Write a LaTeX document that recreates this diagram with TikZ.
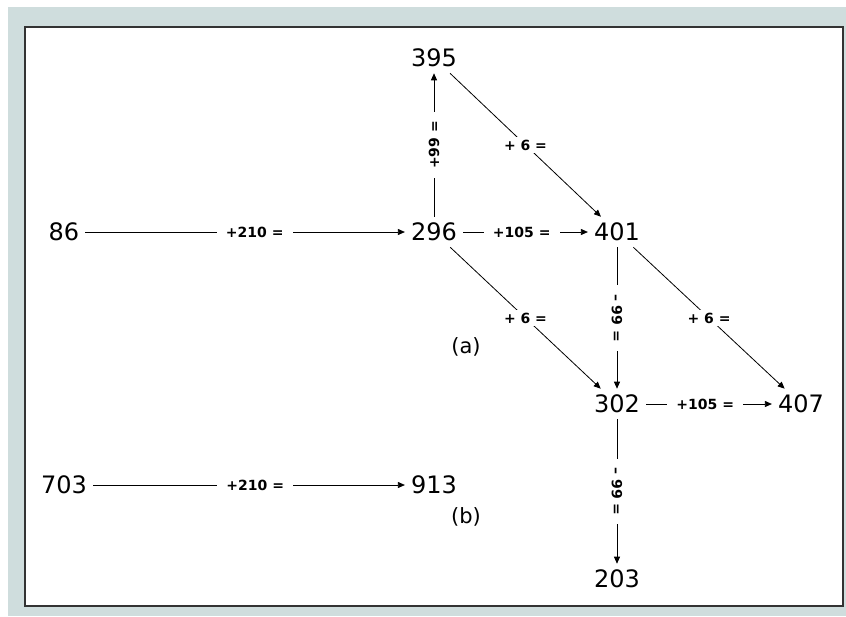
\documentclass[tikz,border=0pt]{standalone}
\usepackage{fontspec}
\setmainfont{DejaVu Sans}
\usetikzlibrary{arrows.meta}
\definecolor{bgWash}{HTML}{CFDDDD}
\definecolor{frameInk}{HTML}{333333}

\begin{document}
\begin{tikzpicture}[
    x=1pt, y=-1pt,
    num/.style={font=\fontsize{24}{28}\selectfont, inner sep=6pt},
    tag/.style={font=\fontsize{21}{24}\selectfont},
    op/.style={font=\bfseries\fontsize{14}{16}\selectfont, fill=white,
               inner xsep=9pt, inner ysep=3pt},
    go/.style={-{Triangle[length=7pt, width=6pt]}, line width=0.8pt},
  ]
  \useasboundingbox (0,0) rectangle (846,616);
  \fill[white] (0,0) rectangle (846,616);
  \fill[bgWash] (8,7) rectangle (846,616);
  \draw[frameInk, line width=2pt, fill=white] (25,27) rectangle (843,606);

  % (a): the step grid
  \node[num] (n86)  at (64,232)  {86};
  \node[num] (n296) at (434,232) {296};
  \node[num] (n395) at (434,58)  {395};
  \node[num] (n401) at (617,232) {401};
  \node[num] (n302) at (617,404) {302};
  \node[num] (n407) at (801,404) {407};
  \node[num] (n203) at (617,579) {203};
  \node[tag] (ta)   at (466,347) {(a)};

  \draw[go] (n86) -- node[op, pos=0.53] {+210 =} (n296);
  \draw[go] (n296) -- node[op, pos=0.47] {+105 =} (n401);
  \draw[go] (n302) -- node[op, pos=0.47] {+105 =} (n407);
  \draw[go] (n296) -- node[op, rotate=90] {+99 =} (n395);
  \draw[go] (n401) -- node[op, rotate=-90] {– 99 =} (n302);
  \draw[go] (n302) -- node[op, rotate=-90] {– 99 =} (n203);
  \draw[go] (n395) -- node[op] {+ 6 =} (n401);
  \draw[go] (n296) -- node[op] {+ 6 =} (n302);
  \draw[go] (n401) -- node[op] {+ 6 =} (n407);

  % (b)
  \node[num] (n703) at (64,485)  {703};
  \node[num] (n913) at (434,485) {913};
  \node[tag] (tb)   at (466,517) {(b)};
  \draw[go] (n703) -- node[op, pos=0.52] {+210 =} (n913);
\end{tikzpicture}
\end{document}
